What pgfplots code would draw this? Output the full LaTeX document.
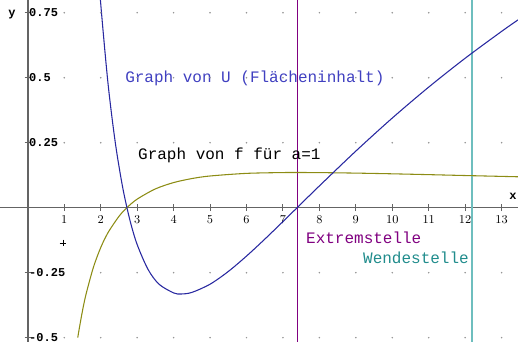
\documentclass[border=0pt]{standalone}
\usepackage{pgfplots}
\pgfplotsset{compat=1.18}
\usepackage{fontspec}
\setmainfont{Liberation Mono}
\setmonofont{Liberation Mono}
\definecolor{axisgray}{RGB}{100,100,100}
\definecolor{dotgray}{RGB}{150,150,150}
\definecolor{ublue}{RGB}{40,40,160}
\definecolor{utext}{RGB}{64,64,192}
\definecolor{folive}{RGB}{140,140,20}
\definecolor{extrem}{RGB}{128,0,128}
\definecolor{wende}{RGB}{110,190,190}
\definecolor{wendetext}{RGB}{32,140,140}

\begin{document}
\begin{tikzpicture}
\begin{axis}[
  name=ax,
  x=27.34pt, y=195pt,
  xmin=-0.764, xmax=13.45,
  ymin=-0.5165, ymax=0.799,
  axis lines=middle,
  axis line style={-, draw=axisgray, line width=1pt},
  xtick={1,2,...,13},
  ytick={-0.5,-0.25,0.25,0.5,0.75},
  yticklabels={-0.5,-0.25,0.25,0.5,0.75},
  tick style={draw=axisgray, line width=0.8pt},
  major tick length=5pt,
  ticklabel style={font=\fontsize{9}{10}\selectfont\bfseries},
  yticklabel style={anchor=west},
  clip=true,
]
% grid dots
\pgfplotsinvokeforeach{-0.5,-0.25,0.25,0.5,0.75}{
  \addplot[only marks, mark=*, mark size=0.35pt, color=dotgray] coordinates {
    (1,#1) (2,#1) (3,#1) (4,#1) (5,#1) (6,#1) (7,#1) (8,#1) (9,#1) (10,#1) (11,#1) (12,#1) (13,#1)
  };
}
% vertical lines
\addplot[color=extrem, draw=extrem, line width=0.9pt, mark=none] coordinates {(7.389,-0.6) (7.389,0.9)};
\addplot[color=wende, draw=wende, line width=1.3pt, mark=none] coordinates {(12.182,-0.6) (12.182,0.9)};
% f for a=1
\addplot[color=folive, line width=0.8pt, smooth, mark=none] coordinates {
  (1.37,-0.500) (1.4,-0.4739) (1.5,-0.3963) (1.6,-0.3312) (1.8,-0.2290)
  (2.0,-0.1534) (2.2,-0.0961) (2.5,-0.0335) (2.718,0) (3,0.0329)
  (3.5,0.0722) (4,0.0966) (4.5,0.1120) (5,0.1219) (6,0.1320)
  (7,0.1351) (7.389,0.1353) (8,0.1349) (9,0.1330) (10,0.1303)
  (11,0.1271) (12,0.1237) (13,0.1204) (13.5,0.1187)
};
% U
\addplot[color=ublue, line width=0.8pt, smooth, mark=none] coordinates {
  (1.9,0.9759) (2.0,0.7843) (2.2,0.4778) (2.4,0.2500) (2.6,0.0797)
  (2.8,-0.0475) (3.0,-0.1419) (3.3,-0.2380) (3.6,-0.2945) (4.0,-0.3279)
  (4.2,-0.3321) (4.5,-0.3260) (5,-0.2944) (5.5,-0.2455) (6,-0.1862)
  (6.5,-0.1213) (7,-0.0535) (7.389,0) (7.5,0.0153) (8,0.0838)
  (9,0.2177) (10,0.3448) (11,0.4639) (12,0.5749) (13,0.6782) (13.5,0.7272)
};
% stray marker
\addplot[only marks, mark=+, mark size=2.5pt, color=black, line width=0.5pt] coordinates {(0.965,-0.136)};
% labels
\node[anchor=west, inner sep=0pt, text=utext, font=\fontsize{12}{13}\selectfont] at (axis cs:2.666,0.499) {Graph von U (Flächeninhalt)};
\node[anchor=west, inner sep=0pt, text=black, font=\fontsize{12}{13}\selectfont] at (axis cs:3.02,0.2027) {Graph von f für a=1};
\node[anchor=west, inner sep=0pt, text=extrem, font=\fontsize{12}{13}\selectfont] at (axis cs:7.63,-0.1165) {Extremstelle};
\node[anchor=west, inner sep=0pt, text=wendetext, font=\fontsize{12}{13}\selectfont] at (axis cs:9.195,-0.193) {Wendestelle};
\node[inner sep=0pt, font=\fontsize{9}{10}\selectfont\bfseries] at (axis cs:13.31,0.045) {x};
\node[inner sep=0pt, font=\fontsize{9}{10}\selectfont\bfseries] at (axis cs:-0.435,0.741) {y};
\end{axis}
\pgfresetboundingbox
\path (ax.south west) rectangle (ax.north east);
\end{tikzpicture}
\end{document}
